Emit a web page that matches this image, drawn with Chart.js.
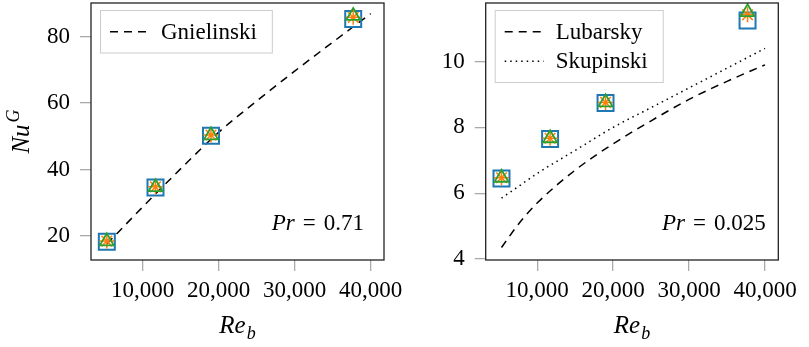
<!DOCTYPE html>
<html>
<head>
<meta charset="utf-8">
<script src="https://cdn.jsdelivr.net/npm/chart.js@4.4.1/dist/chart.umd.min.js"></script>
<style>
  html, body { margin: 0; padding: 0; background: #fff; }
  body { width: 809px; height: 347px; position: relative; overflow: hidden; }
  .panel { position: absolute; top: 0; }
  #left { left: 0; }
  #right { left: 400px; }
  canvas { display: block; }
</style>
</head>
<body>
<div class="panel" id="left"><canvas id="chart-air" width="420" height="347"></canvas></div>
<div class="panel" id="right"><canvas id="chart-metal" width="409" height="347"></canvas></div>
<script>
// measured Reynolds numbers (same for both panels)
const reValues = [5300, 11700, 19000, 37700];
const xTicks = [10000, 20000, 30000, 40000];

// Pr = 0.71
const airSquares = [18.3, 34.6, 50.2, 85.3];
const airStars = [18.5, 34.8, 50.4, 85.8];
const airTriangles = [18.4, 34.7, 50.3, 86.2];
const gnielinskiRe = [5300, 10000, 15000, 20000, 25000, 30000, 35000, 40000];
const gnielinskiNu = [17.6, 28.7, 40.2, 51.2, 60.6, 69.6, 78.3, 86.9];
const airYTicks = [20, 40, 60, 80];

// Pr = 0.025
const metalSquares = [6.45, 7.65, 8.74, 11.25];
const metalStars = [6.47, 7.67, 8.76, 11.42];
const metalTriangles = [6.47, 7.67, 8.76, 11.5];
const curveRe = [5300, 7500, 10000, 15000, 20000, 25000, 30000, 35000, 40000];
const lubarskyNu = [4.35, 5.05, 5.7, 6.7, 7.5, 8.2, 8.85, 9.4, 9.9];
const skupinskiNu = [5.85, 6.2, 6.6, 7.3, 8.0, 8.6, 9.2, 9.8, 10.4];
const metalYTicks = [4, 6, 8, 10];

const serif = "'Liberation Serif', 'Times New Roman', serif";
Chart.defaults.font.family = serif;
Chart.defaults.color = '#000';

function pts(xs, ys) {
  return xs.map((x, i) => ({ x: x, y: ys[i] }));
}

function curve(label, xs, ys, dash) {
  return {
    label: label, inLegend: true, data: pts(xs, ys), showLine: true,
    borderColor: '#000', borderWidth: 1.5, borderDash: dash,
    pointRadius: 0, fill: false, cubicInterpolationMode: 'monotone', order: 4
  };
}

function markers(squares, stars, triangles) {
  return [
    { label: 'square', data: pts(reValues, squares), pointStyle: 'rect', pointRadius: 11.3,
      borderColor: '#1f77b4', backgroundColor: 'rgba(0,0,0,0)', borderWidth: 2, order: 3, clip: false },
    { label: 'star', data: pts(reValues, stars), pointStyle: 'star', pointRadius: 7.5,
      borderColor: '#ff7f0e', backgroundColor: '#ff7f0e', borderWidth: 1.5, order: 2, clip: false },
    { label: 'triangle', data: pts(reValues, triangles), pointStyle: 'triangle', pointRadius: 8,
      borderColor: '#2ca02c', backgroundColor: 'rgba(0,0,0,0)', borderWidth: 1.8, order: 1, clip: false }
  ];
}

// frame, inner legend, Pr note and axis titles with sub/superscripts
const panelDecor = {
  id: 'panelDecor',
  afterDraw(chart, args, opts) {
    const ctx = chart.ctx, a = chart.chartArea;
    ctx.save();
    ctx.strokeStyle = '#222';
    ctx.lineWidth = 1.3;
    ctx.strokeRect(a.left, a.top, a.right - a.left, a.bottom - a.top);

    // legend
    const items = chart.data.datasets.filter(d => d.inLegend);
    ctx.font = '23px ' + serif;
    const w = Math.max(...items.map(d => ctx.measureText(d.label).width)) + 76;
    const h = items.length * 29.5 + 13;
    const bx = a.left + 9, by = a.top + 7;
    ctx.fillStyle = 'rgba(255,255,255,0.8)';
    ctx.fillRect(bx, by, w, h);
    ctx.strokeStyle = '#cccccc';
    ctx.lineWidth = 1;
    ctx.strokeRect(bx + 0.5, by + 0.5, w, h);
    items.forEach((d, i) => {
      const cy = by + 21.7 + i * 29.5;
      ctx.setLineDash(d.borderDash);
      ctx.strokeStyle = d.borderColor;
      ctx.lineWidth = d.borderWidth;
      ctx.beginPath();
      ctx.moveTo(bx + 10, cy);
      ctx.lineTo(bx + 49, cy);
      ctx.stroke();
      ctx.setLineDash([]);
      ctx.fillStyle = '#000';
      ctx.textBaseline = 'middle';
      ctx.textAlign = 'left';
      ctx.fillText(d.label, bx + 61, cy + 1);
    });

    // Pr note
    ctx.fillStyle = '#000';
    ctx.textBaseline = 'alphabetic';
    ctx.textAlign = 'left';
    const it = 'italic 23px ' + serif, rm = '23px ' + serif;
    ctx.font = it;
    const wPr = ctx.measureText('Pr').width;
    ctx.font = rm;
    const wEq = ctx.measureText('=').width, wVal = ctx.measureText(opts.pr).width;
    const gap = 8;
    const total = wPr + gap + wEq + gap + wVal;
    let x = a.right - opts.prInset - total;
    const yb = a.bottom - 30;
    ctx.font = it; ctx.fillText('Pr', x, yb); x += wPr + gap;
    ctx.font = rm; ctx.fillText('=', x, yb); x += wEq + gap;
    ctx.fillText(opts.pr, x, yb);

    // x title Re_b
    const big = 'italic 25px ' + serif, small = 'italic 18px ' + serif;
    ctx.font = big;
    const wRe = ctx.measureText('Re').width;
    ctx.font = small;
    const wb = ctx.measureText('b').width;
    let tx = (a.left + a.right) / 2 - (wRe + 1 + wb) / 2;
    ctx.font = big; ctx.fillText('Re', tx, 333);
    ctx.font = small; ctx.fillText('b', tx + wRe + 1, 339);

    // y title Nu^G
    if (opts.yTitle) {
      ctx.translate(29, (a.top + a.bottom) / 2);
      ctx.rotate(-Math.PI / 2);
      ctx.font = big;
      const wNu = ctx.measureText('Nu').width;
      ctx.font = small;
      const wG = ctx.measureText('G').width;
      const sx = -(wNu + 2 + wG) / 2;
      ctx.font = big; ctx.fillText('Nu', sx, 0);
      ctx.font = small; ctx.fillText('G', sx + wNu + 2, -10);
    }
    ctx.restore();
  }
};

function makeOptions(yMin, yMax, yTicks, yWidth, padRight, decor) {
  const tickFont = { family: serif, size: 23 };
  const grid = { display: true, drawOnChartArea: false, drawTicks: true, tickLength: 11,
                 color: '#aaaaaa', lineWidth: 1.3 };
  return {
    responsive: false,
    animation: false,
    layout: { autoPadding: false, padding: { top: 3, right: padRight, left: 0, bottom: 0 } },
    plugins: { legend: { display: false }, tooltip: { enabled: false }, panelDecor: decor },
    scales: {
      x: {
        type: 'linear', min: 3220, max: 41750,
        border: { display: false }, grid: grid,
        ticks: { font: tickFont, padding: 6, color: '#000', maxRotation: 0,
                 callback: v => v.toLocaleString('en-US') },
        afterBuildTicks: s => { s.ticks = xTicks.map(v => ({ value: v })); },
        afterFit: s => { s.height = 87; s.paddingLeft = 0; s.paddingRight = 0; }
      },
      y: {
        type: 'linear', min: yMin, max: yMax,
        border: { display: false }, grid: grid,
        ticks: { font: tickFont, padding: 10, color: '#000' },
        afterBuildTicks: s => { s.ticks = yTicks.map(v => ({ value: v })); },
        afterFit: s => { s.width = yWidth; s.paddingTop = 0; s.paddingBottom = 0; }
      }
    }
  };
}

new Chart(document.getElementById('chart-air'), {
  type: 'scatter',
  data: {
    datasets: [curve('Gnielinski', gnielinskiRe, gnielinskiNu, [8, 6])]
      .concat(markers(airSquares, airStars, airTriangles))
  },
  options: makeOptions(12.8, 90.1, airYTicks, 91, 36, { pr: '0.71', prInset: 20, yTitle: true }),
  plugins: [panelDecor]
});

new Chart(document.getElementById('chart-metal'), {
  type: 'scatter',
  data: {
    datasets: [
      curve('Lubarsky', curveRe, lubarskyNu, [8, 6]),
      curve('Skupinski', curveRe, skupinskiNu, [1.5, 4])
    ].concat(markers(metalSquares, metalStars, metalTriangles))
  },
  options: makeOptions(3.97, 11.78, metalYTicks, 85.7, 30.7, { pr: '0.025', prInset: 12.6, yTitle: false }),
  plugins: [panelDecor]
});
</script>
</body>
</html>
